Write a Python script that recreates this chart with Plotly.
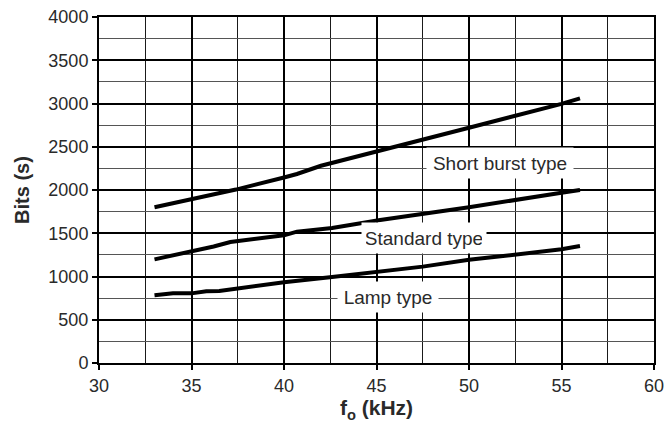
import plotly.graph_objects as go

# Data
short_x = [33, 36.5, 37.4, 40, 40.7, 42, 45.2, 50, 55, 56]
short_y = [1800, 1955, 2005, 2145, 2185, 2280, 2452, 2720, 2995, 3060]

standard_x = [33, 35, 36.2, 37.1, 40, 40.7, 42.6, 45.2, 50, 55, 56]
standard_y = [1198, 1290, 1347, 1399, 1476, 1518, 1561, 1653, 1800, 1969, 2000]

lamp_x = [33, 34, 35, 35.8, 36.5, 40, 42.6, 45, 47.5, 50, 55, 56]
lamp_y = [782, 805, 805, 829, 833, 933, 995, 1048, 1114, 1193, 1314, 1352]

labels = ["Short burst type", "Standard type", "Lamp type"]
label_x = [51.66, 47.59, 45.6]
label_y = [2316, 1442, 760]
label_w = [138, 116, 92]

FONT = "Liberation Sans, Arial, sans-serif"
TXT = "#2a2a2a"

fig = go.Figure()
for xs, ys in [(short_x, short_y), (standard_x, standard_y), (lamp_x, lamp_y)]:
    fig.add_trace(go.Scatter(x=xs, y=ys, mode="lines",
                             line=dict(color="black", width=4),
                             showlegend=False, hoverinfo="skip"))

for t, xx, yy, w in zip(labels, label_x, label_y, label_w):
    fig.add_annotation(x=xx, y=yy, text=t, showarrow=False,
                       font=dict(family=FONT, size=19, color=TXT),
                       bgcolor="white", width=w, height=22, borderpad=4)

axis_common = dict(
    showline=True, linecolor="black", linewidth=2, mirror=True,
    ticks="outside", ticklen=5, tickwidth=2, tickcolor="black",
    showgrid=True, gridcolor="black", gridwidth=1.6,
    zeroline=False, automargin=False,
    tickfont=dict(family=FONT, size=18, color=TXT),
)

fig.update_xaxes(range=[30, 60], dtick=5, tick0=30,
                 minor=dict(dtick=2.5, showgrid=True, gridcolor="#1a1a1a",
                            gridwidth=1, ticks=""),
                 title=dict(text="<b>f<sub>o</sub> (kHz)</b>",
                            font=dict(family=FONT, size=21, color=TXT),
                            standoff=6),
                 **axis_common)
fig.update_yaxes(range=[0, 4000], dtick=500, tick0=0,
                 minor=dict(dtick=250, showgrid=True, gridcolor="#555555",
                            gridwidth=1, ticks=""),
                 title=dict(text="<b>Bits (s)</b>",
                            font=dict(family=FONT, size=20, color=TXT),
                            standoff=13),
                 **axis_common)

fig.update_layout(
    width=666, height=428,
    margin=dict(l=99, r=12, t=17, b=65),
    plot_bgcolor="white", paper_bgcolor="white",
)

fig.write_html("out.html",
               config={"displayModeBar": False},
               post_script="document.body.style.margin='0';"
                           "document.body.style.padding='0';")
